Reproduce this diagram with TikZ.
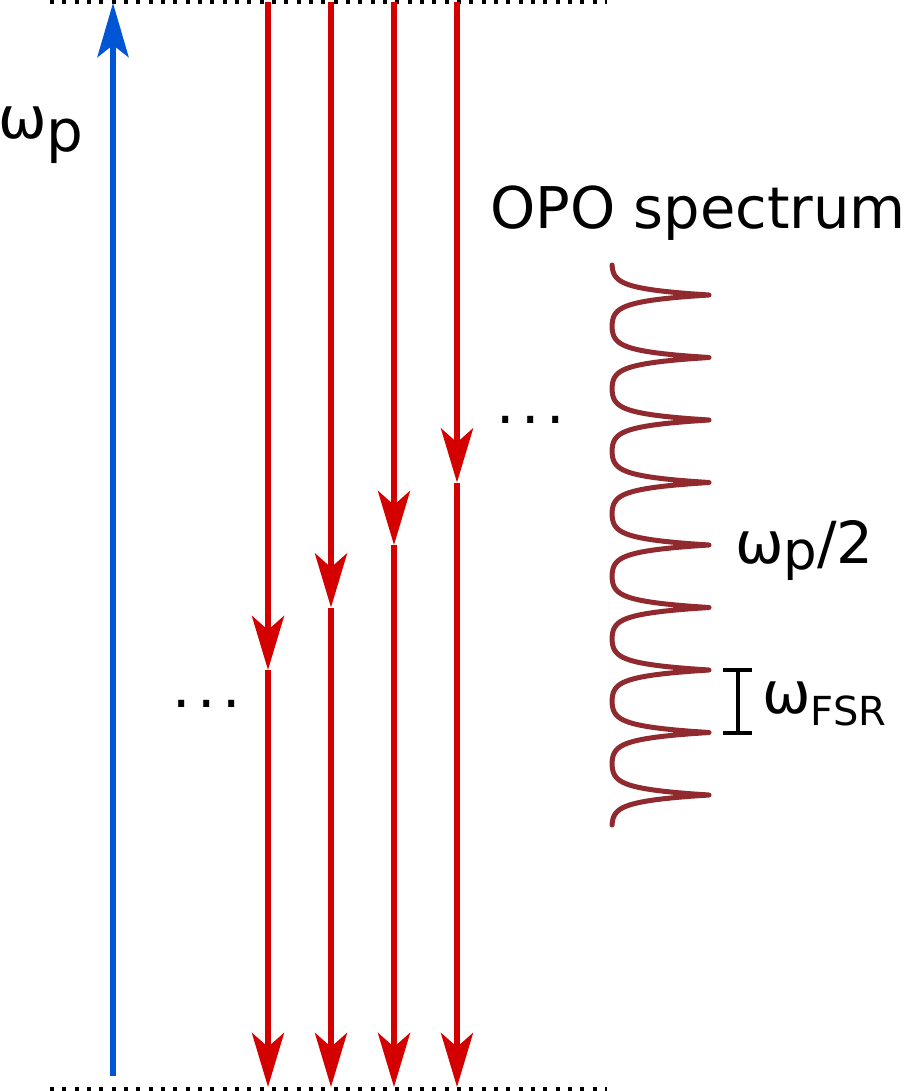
\documentclass[tikz,border=0pt]{standalone}
\usepackage{fontspec}
\setmainfont{DejaVu Sans}
\usetikzlibrary{arrows.meta}
\definecolor{redA}{RGB}{212,0,0}
\definecolor{blueA}{RGB}{0,85,212}
\definecolor{specA}{RGB}{145,42,47}
\begin{document}
\begin{tikzpicture}[x=1pt,y=-1pt,
  levelline/.style={line width=4pt, dash pattern=on 4pt off 8.33pt},
  redarrow/.style={draw=redA, line width=6pt, -{Stealth[length=54pt,width=32pt,inset=14pt]}},
  bluearrow/.style={draw=blueA, line width=6pt, -{Stealth[length=54pt,width=31pt,inset=12pt]}},
  lbl/.style={anchor=base west, inner sep=0pt, font=\fontsize{58}{70}\selectfont},
  spec/.style={draw=specA, line width=5pt, line cap=round, line join=round},
  fsrbar/.style={line width=3.5pt}]
\useasboundingbox (0,0) rectangle (910,1091);

% energy levels
\coordinate (topL) at (50,2);
\coordinate (topR) at (607,2);
\coordinate (botL) at (50,1088.5);
\coordinate (botR) at (607,1088.5);
\draw[levelline] (topL) -- (topR);
\draw[levelline] (botL) -- (botR);

% pump arrow
\coordinate (pumpB) at (113,1076);
\coordinate (pumpT) at (113,3);
\draw[bluearrow] (pumpB) -- (pumpT);

% signal / idler arrows
\foreach \i/\x/\m in {1/268/670, 2/331/607.5, 3/394/545, 4/457/482.5}{
  \coordinate (s\i) at (\x,2);
  \coordinate (m\i) at (\x,\m);
  \coordinate (e\i) at (\x,1087);
  \draw[redarrow] (s\i) -- (m\i);
  \draw[redarrow] (m\i) -- (e\i);
}

% OPO spectrum
\draw[spec] plot[domain=265:825, samples=449, variable=\t]
  ({611+98*(exp(-abs(mod(\t-263.75,62.5)-31.25)/6)+exp(-(62.5-abs(mod(\t-263.75,62.5)-31.25))/6))}, {\t});

% FSR bracket
\coordinate (fsrT) at (738,670);
\coordinate (fsrB) at (738,733);
\draw[fsrbar] (723,670) -- (752,670) (fsrT) -- (fsrB) (723,733) -- (752,733);

% labels
\node[lbl] (wp) at (-2,139) {ω\raisebox{-13pt}{p}};
\node[lbl, font=\fontsize{57.5}{70}\selectfont] (opo) at (490,229) {OPO spectrum};
\node[lbl] (half) at (735,563) {ω\raisebox{-6pt}{\fontsize{53}{60}\selectfont p}/2};
\node[lbl] (fsr) at (762,713) {ω\raisebox{-12pt}{\fontsize{40}{48}\selectfont FSR}};
\node[lbl] (dotsL) at (172,707) {.\kern6.6pt.\kern6.6pt.};
\node[lbl] (dotsR) at (496,423) {.\kern6.6pt.\kern6.6pt.};
\end{tikzpicture}
\end{document}
